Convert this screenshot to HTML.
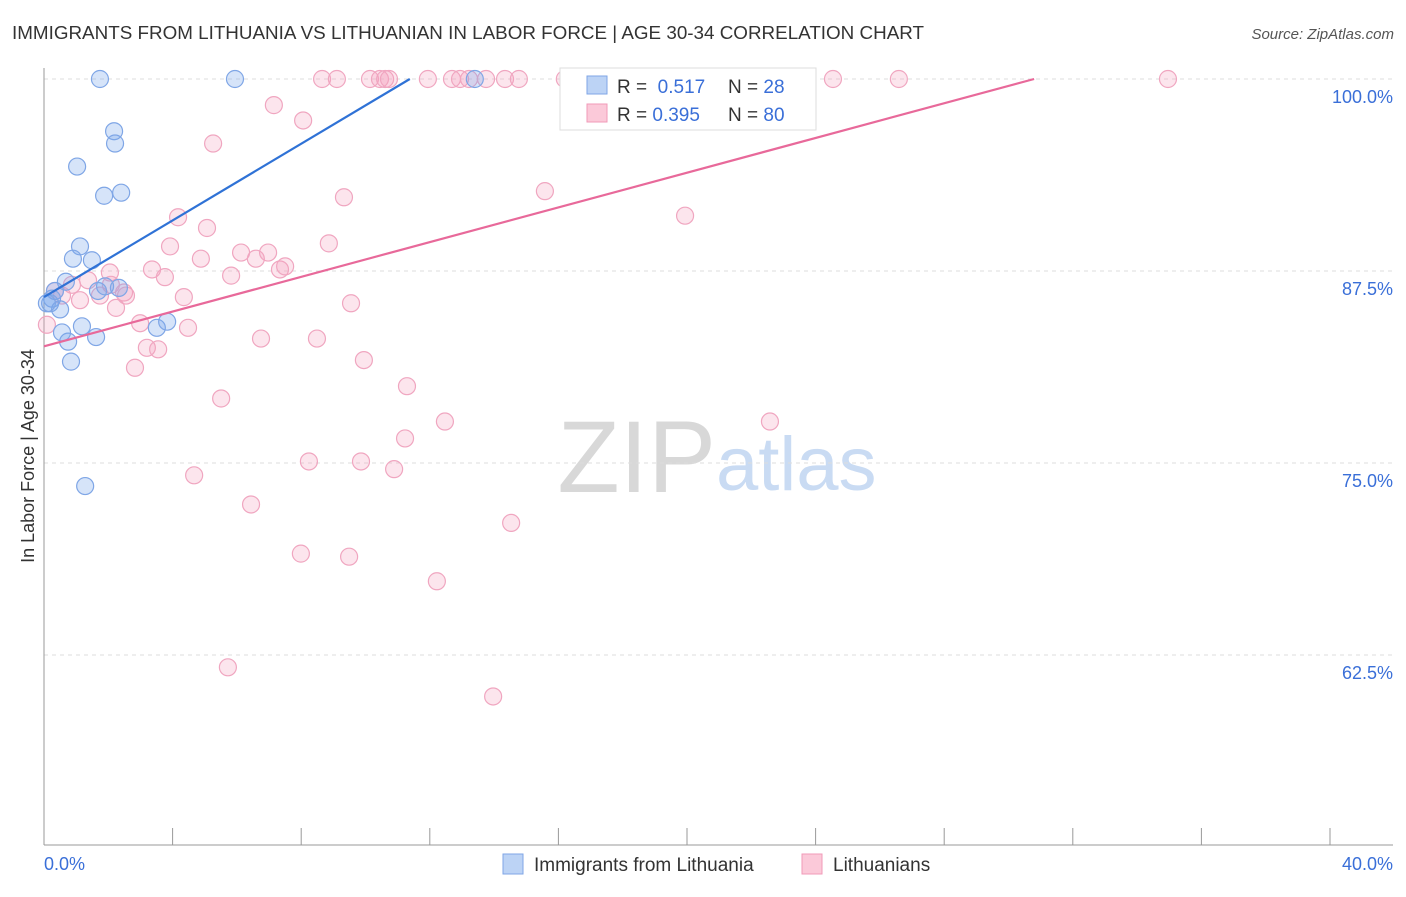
<!DOCTYPE html>
<html><head><meta charset="utf-8">
<style>
body{margin:0;background:#fff;font-family:"Liberation Sans",sans-serif;}
svg text{font-family:"Liberation Sans",sans-serif;}
</style></head>
<body>
<svg id="chart" width="1406" height="892" viewBox="0 0 1406 892">
<text x="12" y="39" font-size="18.5" fill="#333" textLength="912" lengthAdjust="spacingAndGlyphs">IMMIGRANTS FROM LITHUANIA VS LITHUANIAN IN LABOR FORCE | AGE 30-34 CORRELATION CHART</text>
<text x="1394" y="39" font-size="15" fill="#555" font-style="italic" text-anchor="end">Source: ZipAtlas.com</text>
<text x="716" y="492" font-size="102" fill="#d8d8d8" font-family="Liberation Serif" text-anchor="end">ZIP</text>
<text x="716" y="490" font-size="76" fill="#c9dbf3">atlas</text>
<text x="34" y="456" font-size="18" fill="#333" text-anchor="middle" transform="rotate(-90 34 456)">In Labor Force | Age 30-34</text>
<g id="grid"></g>
<g id="axes"></g>
<g id="marks"></g>
<g id="legend">
<rect x="560" y="68" width="256" height="62" fill="#fff" stroke="#ddd"/>
<rect x="587" y="76" width="20" height="18" fill="#bcd3f5" stroke="#7fa6e6"/>
<rect x="587" y="104" width="20" height="18" fill="#fbc9d9" stroke="#f09ab8"/>
<text x="617" y="93" font-size="19" fill="#333">R = <tspan fill="#3a6fd8">&#160;0.517</tspan></text>
<text x="728" y="93" font-size="19" fill="#333">N = <tspan fill="#3a6fd8">28</tspan></text>
<text x="617" y="121" font-size="19" fill="#333">R = <tspan fill="#3a6fd8">0.395</tspan></text>
<text x="728" y="121" font-size="19" fill="#333">N = <tspan fill="#3a6fd8">80</tspan></text>
</g>
<g>
<rect x="503" y="854" width="20" height="20" fill="#bcd3f5" stroke="#7fa6e6"/>
<text x="534" y="871" font-size="19" fill="#333">Immigrants from Lithuania</text>
<rect x="802" y="854" width="20" height="20" fill="#fbc9d9" stroke="#f09ab8"/>
<text x="833" y="871" font-size="19" fill="#333">Lithuanians</text>
</g>
</svg>
<script>
const yTicks=[100,87.5,75,62.5];
const yTickLabels=["100.0%","87.5%","75.0%","62.5%"];
const xTickLabels=["0.0%","40.0%"];
const blueX=[1.74,5.94,13.4,2.18,2.21,1.03,1.87,2.4,1.12,0.9,1.49,0.68,0.34,0.25,0.19,0.5,1.9,1.68,2.33,1.18,1.62,0.75,0.84,3.51,3.83,1.28,0.56,0.09];
const blueY=[100,100,100,96.6,95.8,94.3,92.4,92.6,89.1,88.3,88.2,86.8,86.2,85.7,85.4,85.0,86.5,86.2,86.4,83.9,83.2,82.9,81.6,83.8,84.2,73.5,83.5,85.4];
const pinkX=[0.09,0.34,0.56,0.87,1.12,1.37,1.74,2.05,2.24,2.49,2.55,2.83,2.99,3.2,3.36,3.55,3.76,3.92,4.17,4.35,4.48,4.67,4.88,5.07,5.26,5.51,5.72,5.82,6.13,6.44,6.59,6.75,6.97,7.15,7.34,7.5,7.99,8.06,8.24,8.49,8.65,8.86,9.11,9.33,9.49,9.55,9.86,9.95,10.14,10.45,10.61,10.73,10.89,11.23,11.29,11.94,12.22,12.47,12.69,12.94,13.22,13.75,13.97,14.34,14.53,14.77,15.58,16.2,16.67,19.94,22.58,24.54,26.59,34.96,20.87,22.27,23.67,2.08];
const pinkY=[84.0,86.2,85.9,86.6,85.6,86.9,85.9,87.4,85.1,86.1,85.9,81.2,84.1,82.5,87.6,82.4,87.1,89.1,91.0,85.8,83.8,74.2,88.3,90.3,95.8,79.2,61.7,87.2,88.7,72.3,88.3,83.1,88.7,98.3,87.6,87.8,69.1,97.3,75.1,83.1,100,89.3,100,92.3,68.9,85.4,75.1,81.7,100,100,100,100,74.6,76.6,80.0,100,67.3,77.7,100,100,100,100,59.8,100,71.1,100,92.7,100,100,91.1,77.7,100,100,100,100,100,100,86.6];
const blueTrend=[85.8,1.248];
const pinkTrend=[82.6,0.565];

const X0=44,X1=1330,XMAX=40;
const sx=v=>X0+v*(X1-X0)/XMAX;
const sy=v=>79+(100-v)*15.36;
const NS="http://www.w3.org/2000/svg";
function mk(tag,attrs,parent){const e=document.createElementNS(NS,tag);for(const k in attrs)e.setAttribute(k,attrs[k]);parent.appendChild(e);return e;}
const grid=document.getElementById('grid'),axes=document.getElementById('axes'),marks=document.getElementById('marks');
yTicks.forEach((t,i)=>{
  const l=mk('line',{x1:44,x2:1393,y1:sy(t),y2:sy(t),stroke:'#ddd','stroke-dasharray':'4,4'},grid);
  
  
  const tx=mk('text',{x:1393,y:sy(t)+24,'font-size':18,fill:'#3a6fd8','text-anchor':'end'},axes);
  tx.textContent=yTickLabels[i];
  
  
});
const ya=mk('line',{x1:44,x2:44,y1:68,y2:845,stroke:'#999'},axes);


const xa=mk('line',{x1:44,x2:1393,y1:845,y2:845,stroke:'#999'},axes);


for(let k=0;k<=10;k++){
  const tk=mk('line',{x1:sx(k*4),x2:sx(k*4),y1:828,y2:845,stroke:'#999'},axes);
  
  
}
const xl0=mk('text',{x:44,y:870,'font-size':18,fill:'#3a6fd8'},axes);xl0.textContent=xTickLabels[0];


const xl1=mk('text',{x:1393,y:870,'font-size':18,fill:'#3a6fd8','text-anchor':'end'},axes);xl1.textContent=xTickLabels[1];



pinkX.forEach((x,i)=>{
  const c=mk('circle',{cx:sx(x),cy:sy(pinkY[i]),r:8.5,fill:'rgba(244,160,190,0.28)',stroke:'#f0a6c0','stroke-width':1.2},marks);
  
  
});
blueX.forEach((x,i)=>{
  const c=mk('circle',{cx:sx(x),cy:sy(blueY[i]),r:8.5,fill:'rgba(120,165,235,0.3)',stroke:'#7fa6e6','stroke-width':1.2},marks);
  
  
});
function trend(tr,color,name){
  const xEnd=Math.min(XMAX,(100-tr[0])/tr[1]);
  const l=mk('line',{x1:sx(0),y1:sy(tr[0]),x2:sx(xEnd),y2:sy(tr[0]+tr[1]*xEnd),stroke:color,'stroke-width':2.2},marks);
  
  
}
trend(pinkTrend,'#e8699a','lithuanians-trend-line');
trend(blueTrend,'#2f72d6','immigrants-trend-line');
</script>
</body></html>
